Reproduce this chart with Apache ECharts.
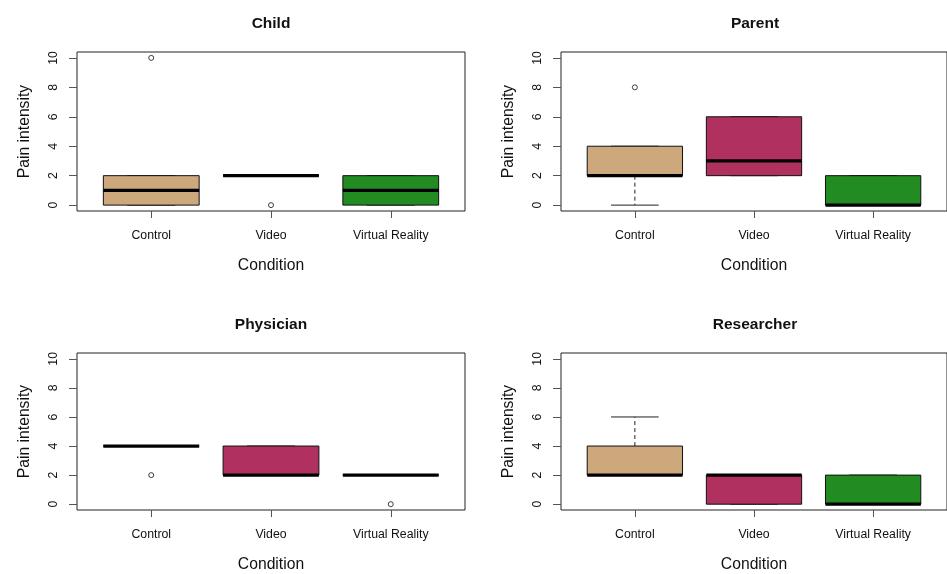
<!DOCTYPE html>
<html>
<head>
<meta charset="utf-8">
<script src="https://cdn.jsdelivr.net/npm/echarts@6/dist/echarts.min.js"></script>
<style>
html,body{margin:0;padding:0;background:#fff;}
#chart{width:947px;height:574px;}
</style>
</head>
<body>
<div id="chart"></div>
<script>
// ---- data ----
const categories = ['Control', 'Video', 'Virtual Reality'];
const panelTitles = ['Child', 'Parent', 'Physician', 'Researcher'];
const yTicks = [0, 2, 4, 6, 8, 10];
// each entry: [lower whisker, Q1, median, Q3, upper whisker] per category
const childStats = [[0, 0, 1, 2, 2], [2, 2, 2, 2, 2], [0, 0, 1, 2, 2]];
const parentStats = [[0, 2, 2, 4, 4], [2, 2, 3, 6, 6], [0, 0, 0, 2, 2]];
const physicianStats = [[4, 4, 4, 4, 4], [2, 2, 2, 4, 4], [2, 2, 2, 2, 2]];
const researcherStats = [[2, 2, 2, 4, 6], [0, 0, 2, 2, 2], [0, 0, 0, 2, 2]];
// outliers: [category index (1-based), value]
const childOutliers = [[1, 10], [2, 0]];
const parentOutliers = [[1, 8]];
const physicianOutliers = [[1, 2], [3, 0]];
const researcherOutliers = [];
const boxColors = ['#CCA87C', '#B03060', '#228B22'];

const allStats = [childStats, parentStats, physicianStats, researcherStats];
const allOutliers = [childOutliers, parentOutliers, physicianOutliers, researcherOutliers];

// ---- layout ----
const FONT = 'Liberation Sans, Arial, sans-serif';
const gridW = 388, gridH = 159;
const lefts = [77, 561], tops = [52, 353];

const grids = [], xAxes = [], yAxes = [], series = [], graphics = [];
for (let i = 0; i < 4; i++) {
  const c = i % 2, r = Math.floor(i / 2);
  grids.push({left: lefts[c], top: tops[r], width: gridW, height: gridH,
    show: true, borderColor: '#222', borderWidth: 1, backgroundColor: 'transparent'});
  xAxes.push({
    type: 'value', gridIndex: i, min: 0.38, max: 3.62, position: 'bottom',
    name: 'Condition', nameLocation: 'middle', nameGap: 47,
    nameTextStyle: {fontFamily: FONT, fontSize: 15.7, color: '#111'},
    axisLine: {show: false, onZero: false},
    splitLine: {show: false},
    axisTick: {show: true, inside: false, length: 7, customValues: [1, 2, 3], lineStyle: {color: '#555', width: 1}},
    axisLabel: {show: true, margin: 19, customValues: [1, 2, 3], fontFamily: FONT, fontSize: 12.3, color: '#111',
      formatter: v => categories[Math.round(v) - 1]}
  });
  yAxes.push({
    type: 'value', gridIndex: i, min: -0.4, max: 10.4, position: 'left',
    name: 'Pain intensity', nameLocation: 'middle', nameGap: 44,
    nameTextStyle: {fontFamily: FONT, fontSize: 15.7, color: '#111'},
    axisLine: {show: false, onZero: false},
    splitLine: {show: false},
    axisTick: {show: true, inside: false, length: 8, customValues: yTicks, lineStyle: {color: '#555', width: 1}},
    axisLabel: {show: true, rotate: 90, margin: 17, customValues: yTicks, fontFamily: FONT, fontSize: 12.3, color: '#111'}
  });
  const stats = allStats[i];
  const boxData = stats.map((s, k) => [k + 1].concat(s));
  series.push({
    type: 'custom', xAxisIndex: i, yAxisIndex: i, data: boxData, clip: false,
    renderItem: function (params, api) {
      const x = api.value(0);
      const lo = api.value(1), q1 = api.value(2), md = api.value(3), q3 = api.value(4), hi = api.value(5);
      const bw = api.size([0.8, 0])[0];
      const cx = api.coord([x, 0])[0];
      const yq1 = api.coord([x, q1])[1], yq3 = api.coord([x, q3])[1];
      const ymd = api.coord([x, md])[1], ylo = api.coord([x, lo])[1], yhi = api.coord([x, hi])[1];
      const x0 = cx - bw / 2, x1 = cx + bw / 2;
      const children = [];
      // whiskers (dashed)
      if (hi > q3) children.push({type: 'line', shape: {x1: cx, y1: yq3, x2: cx, y2: yhi},
        style: {stroke: '#222', lineWidth: 1, lineDash: [4, 3]}});
      if (lo < q1) children.push({type: 'line', shape: {x1: cx, y1: yq1, x2: cx, y2: ylo},
        style: {stroke: '#222', lineWidth: 1, lineDash: [4, 3]}});
      // staples
      children.push({type: 'line', shape: {x1: cx - bw / 4, y1: yhi, x2: cx + bw / 4, y2: yhi}, style: {stroke: '#222', lineWidth: 1}});
      children.push({type: 'line', shape: {x1: cx - bw / 4, y1: ylo, x2: cx + bw / 4, y2: ylo}, style: {stroke: '#222', lineWidth: 1}});
      // box
      children.push({type: 'rect', shape: {x: x0, y: yq3, width: bw, height: yq1 - yq3},
        style: {fill: boxColors[x - 1], stroke: '#111', lineWidth: 1}});
      // median
      children.push({type: 'line', shape: {x1: x0, y1: ymd, x2: x1, y2: ymd}, style: {stroke: '#000', lineWidth: 3.2}});
      return {type: 'group', children: children};
    }
  });
  series.push({
    type: 'scatter', xAxisIndex: i, yAxisIndex: i, data: allOutliers[i],
    symbol: 'circle', symbolSize: 5,
    itemStyle: {color: '#fff', borderColor: '#111', borderWidth: 1}
  });
  graphics.push({type: 'text', x: lefts[c] + gridW / 2, y: tops[r] - 28.5,
    style: {text: panelTitles[i], fontFamily: FONT, fontWeight: 'bold', fontSize: 15.5, fill: '#111',
      textAlign: 'center', textVerticalAlign: 'middle'}});
}

const chart = echarts.init(document.getElementById('chart'), null, {renderer: 'canvas'});
chart.setOption({
  animation: false,
  backgroundColor: '#fff',
  grid: grids, xAxis: xAxes, yAxis: yAxes, series: series, graphic: graphics
});
</script>
</body>
</html>
